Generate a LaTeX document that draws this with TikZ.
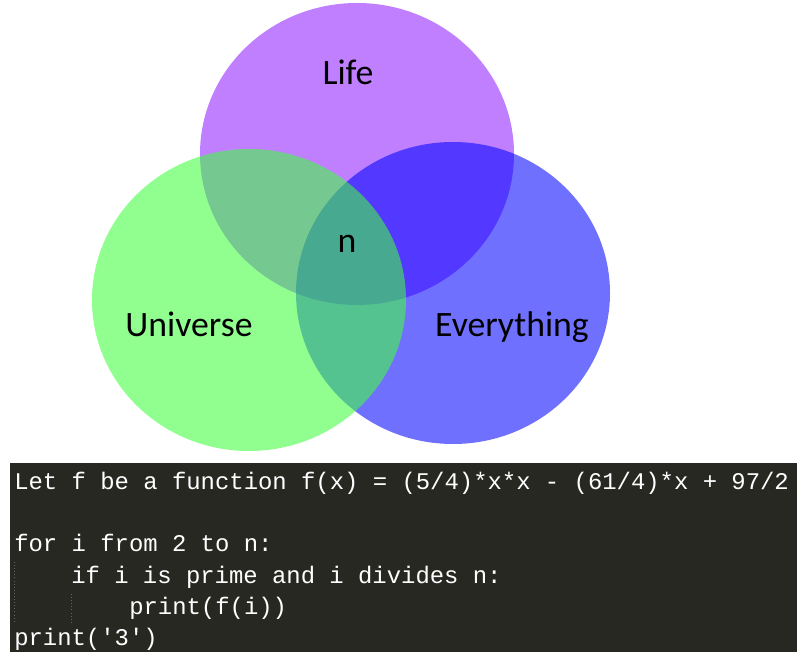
\documentclass[tikz,border=0pt]{standalone}
\usepackage{fontspec}
\usepackage{xcolor}
\newfontfamily\labelfont{Carlito}
\newfontfamily\codefont{Liberation Mono}
\definecolor{lifecol}{RGB}{127,0,255}
\definecolor{everycol}{RGB}{0,0,255}
\definecolor{unicol}{RGB}{64,255,64}
\definecolor{codebg}{RGB}{39,40,34}
\begin{document}
\begin{tikzpicture}[x=0.025cm,y=-0.025cm,
  setname/.style={anchor=base,inner sep=0pt,font=\labelfont\fontsize{25.4}{30}\selectfont},
  codeline/.style={anchor=base west,inner sep=0pt,white,font=\codefont\fontsize{17}{20}\selectfont}]
\useasboundingbox (0,0) rectangle (802,661);
% the three sets
\fill [lifecol, opacity=0.5] (357,154) ellipse [x radius=157, y radius=151];
\fill [everycol, opacity=0.56] (453,293) ellipse [x radius=157, y radius=151];
\fill [unicol, opacity=0.58] (249,300) ellipse [x radius=157, y radius=151];
\node (life) [setname] at (348,85) {Life};
\node (n) [setname] at (347,253) {n};
\node (universe) [setname] at (189,337) {Universe};
\node (everything) [setname] at (512,337) {Everything};
% code block
\fill [codebg] (10,463) rectangle (797,652);
\draw [very thin, dotted, gray!70!codebg] (14,562) -- (14,622);
\draw [very thin, dotted, gray!70!codebg] (71,594) -- (71,622);
\node (line1) [codeline] at (14,490) {Let f be a function f(x) = (5/4)*x*x - (61/4)*x + 97/2};
\node (line2) [codeline] at (14,552) {for i from 2 to n:};
\node (line3) [codeline] at (71,583) {if i is prime and i divides n:};
\node (line4) [codeline] at (129,614) {print(f(i))};
\node (line5) [codeline] at (14,645) {print('3')};
\end{tikzpicture}
\end{document}
